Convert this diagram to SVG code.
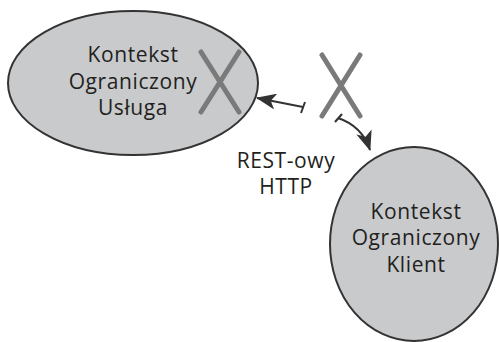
<svg xmlns="http://www.w3.org/2000/svg" width="499" height="342" viewBox="0 0 499 342">
<defs>
<style>
.node{fill:#c9cacc;stroke:#333;stroke-width:2}
.lbl{font-family:"Open Sans","Liberation Sans",sans-serif;font-size:21px;letter-spacing:0.6px;fill:#231f20;text-anchor:middle}
.cross{stroke:#7a7a7a;stroke-width:5;stroke-linecap:round;fill:none}
.conn{stroke:#333;stroke-width:2;fill:none}
</style>
<marker id="ah" viewBox="0 0 20 16" refX="19" refY="8" markerWidth="20" markerHeight="16" markerUnits="userSpaceOnUse" orient="auto">
<path d="M0,0 L20,8 L0,16 L5,8 Z" fill="#333"/>
</marker>
</defs>
<rect width="499" height="342" fill="#fff"/>
<g id="usluga">
<ellipse class="node" cx="133" cy="83" rx="125" ry="72"/>
<text class="lbl" x="133" y="62">Kontekst</text>
<text class="lbl" x="133" y="89">Ograniczony</text>
<text class="lbl" x="133" y="115">Usługa</text>
<path class="cross" d="M201,52 L239,112 M239,52 L201,112"/>
</g>
<g id="klient">
<ellipse class="node" cx="414" cy="244" rx="84" ry="97"/>
<text class="lbl" x="416" y="219">Kontekst</text>
<text class="lbl" x="416" y="245">Ograniczony</text>
<text class="lbl" x="416" y="272">Klient</text>
</g>
<g id="rest">
<path class="cross" d="M322,55 L360,116 M360,55 L322,116"/>
<text class="lbl" x="286" y="168">REST-owy</text>
<text class="lbl" x="286" y="194">HTTP</text>
</g>
<g id="connectors">
<path class="conn" d="M303,107 L257,98" marker-end="url(#ah)"/>
<path class="conn" d="M305,102 L301,113"/>
<path class="conn" d="M338,118 Q362,126 370,150" marker-end="url(#ah)"/>
<path class="conn" d="M335,122 L342,114"/>
</g>
</svg>
